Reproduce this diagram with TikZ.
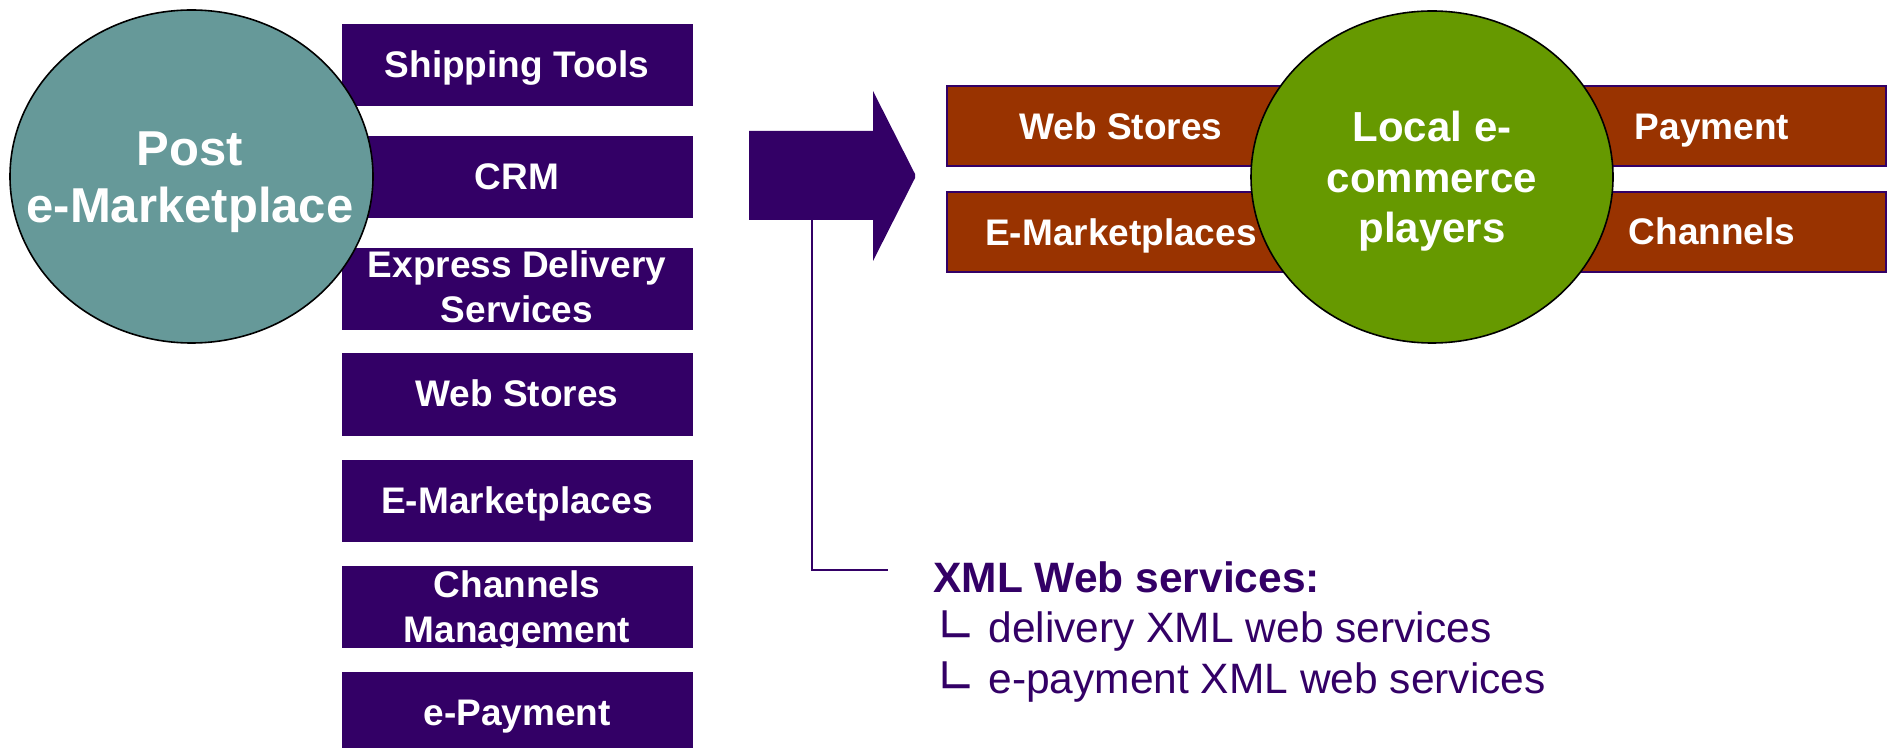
\documentclass[tikz,border=0pt]{standalone}
\usepackage{fontspec}
\setmainfont{Liberation Sans}
\newfontfamily\symfont{DejaVu Sans}
\usetikzlibrary{shapes.geometric}
\definecolor{purp}{HTML}{330066}
\definecolor{teal}{HTML}{669999}
\definecolor{brn}{HTML}{993300}
\definecolor{grn}{HTML}{669900}
\tikzset{
  pbox/.style={rectangle, draw=purp, fill=purp, line width=0.5pt, minimum width=175pt, minimum height=40.5pt, inner sep=0pt},
  bbox/.style={rectangle, draw=purp, fill=brn, line width=1pt, minimum width=174pt, minimum height=40pt, inner sep=0pt},
  bigell/.style={ellipse, draw=black, line width=0.8pt, inner sep=0pt},
  boxtxt/.style={text=white, font=\bfseries\fontsize{18.5}{22.5}\selectfont, align=center, inner sep=0pt, anchor=base},
  xmltxt/.style={text=purp, font=\fontsize{21.25}{25}\selectfont, inner sep=0pt, anchor=base west},
  callout/.style={draw=purp, line width=0.8pt}
}
\newcommand{\lbul}{\makebox[26pt][l]{\symfont\fontsize{24}{24}\selectfont ∟}}
\begin{document}
\begin{tikzpicture}[x=0.5pt,y=-0.5pt]
\useasboundingbox (0,0) rectangle (1889,748);
\clip (0,0) rectangle (1889,748);
% left purple boxes
\node[pbox] (b1) at (517,65.5) {};
\node[pbox] (b2) at (517,177.5) {};
\node[pbox] (b3) at (517,289) {};
\node[pbox] (b4) at (517,394.5) {};
\node[pbox] (b5) at (517,500.5) {};
\node[pbox] (b6) at (517,606.5) {};
\node[pbox] (b7) at (517,712.5) {};
% left ellipse
\node[bigell, fill=teal, minimum width=181.5pt, minimum height=166.5pt] (post) at (191.5,176.5) {};
\node[text=white, font=\bfseries\fontsize{24.5}{28.5}\selectfont, align=center, inner sep=0pt, anchor=base] (posttxt) at (190,223) {Post\\e-Marketplace};
% box texts
\node[boxtxt] (t1) at (517,78) {Shipping Tools};
\node[boxtxt] (t2) at (517,190) {CRM};
\node[boxtxt] (t3) at (517,323) {Express Delivery\\Services};
\node[boxtxt] (t4) at (517,407) {Web Stores};
\node[boxtxt] (t5) at (517,513) {E-Marketplaces};
\node[boxtxt] (t6) at (517,642) {Channels\\Management};
\node[boxtxt] (t7) at (517,725) {e-Payment};
% big arrow
\fill[purp] (749,131) -- (873,131) -- (873,91) -- (915,174) -- (915,178) -- (873,261) -- (873,220) -- (749,220) -- cycle;
\coordinate (ctop) at (812,220);
\coordinate (cend) at (888,570);
\draw[callout] (ctop) |- (cend);
% right brown boxes
\node[bbox] (r1) at (1121,126) {};
\node[bbox] (r2) at (1121,232) {};
\node[bbox] (r3) at (1712,126) {};
\node[bbox] (r4) at (1712,232) {};
\node[boxtxt] (rt1) at (1121,140) {Web Stores};
\node[boxtxt] (rt2) at (1121,246) {E-Marketplaces};
\node[boxtxt] (rt3) at (1712,140) {Payment};
\node[boxtxt] (rt4) at (1712,245) {Channels};
% green ellipse
\node[bigell, fill=grn, minimum width=181pt, minimum height=166pt] (local) at (1432,177) {};
\node[text=white, font=\bfseries\fontsize{21}{25.25}\selectfont, align=center, inner sep=0pt, anchor=base] (localtxt) at (1432,243) {Local e-\\commerce\\players};
% XML text
\node[xmltxt, font=\bfseries\fontsize{21.25}{25}\selectfont] (xml) at (933,592) {XML Web services:};
\node[xmltxt] (x1) at (936,642) {\lbul delivery XML web services};
\node[xmltxt] (x2) at (936,693) {\lbul e-payment XML web services};
\end{tikzpicture}
\end{document}
